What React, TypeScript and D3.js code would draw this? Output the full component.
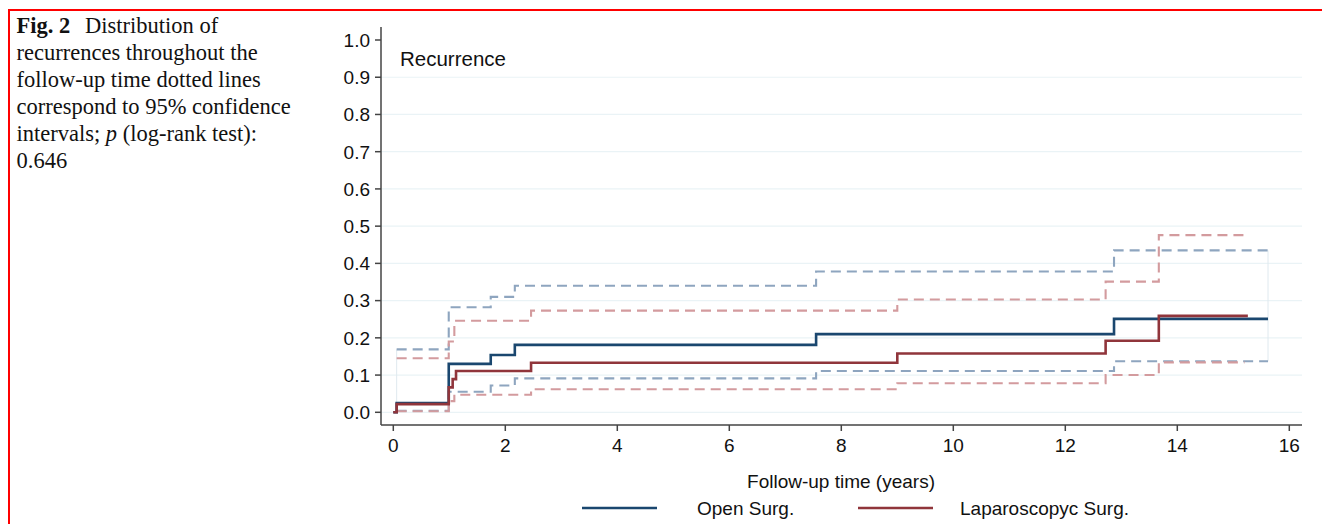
import * as d3 from 'd3';

// Kaplan-Meier style cumulative recurrence, step-after
const openTimes = [0, 0.06, 0.99, 1.74, 2.17, 7.55, 12.87, 15.62];
const openEst = [0, 0.025, 0.130, 0.154, 0.181, 0.210, 0.251, 0.251];
const openCITimes = [0.06, 0.99, 1.74, 2.17, 7.55, 12.87, 15.62];
const openUpper = [0.169, 0.282, 0.310, 0.340, 0.378, 0.435, 0.435];
const openLower = [0.004, 0.055, 0.072, 0.091, 0.111, 0.137, 0.137];

const lapTimes = [0, 0.06, 0.99, 1.06, 1.12, 2.46, 9.0, 12.72, 13.67, 15.26];
const lapEst = [0, 0.022, 0.067, 0.089, 0.111, 0.133, 0.158, 0.192, 0.259, 0.259];
const lapCITimes = [0.06, 0.99, 1.09, 2.46, 9.0, 12.72, 13.67, 15.2];
const lapUpper = [0.145, 0.19, 0.246, 0.273, 0.303, 0.351, 0.476, 0.476];
const lapLower = [0.003, 0.03, 0.047, 0.062, 0.078, 0.100, 0.134, 0.134];

const xTicks = [0, 2, 4, 6, 8, 10, 12, 14, 16];
const yTicks = [0, 0.1, 0.2, 0.3, 0.4, 0.5, 0.6, 0.7, 0.8, 0.9, 1.0];
const gridTicks = [0, 0.1, 0.2, 0.3, 0.4, 0.5, 0.6, 0.7, 0.8, 0.9];

const captionLines = [
  'recurrences throughout the',
  'follow-up time dotted lines',
  'correspond to 95% confidence',
];

const BLUE = '#1a476f';
const RED = '#90353b';
const BLUE_CI = '#8ea5bf';
const RED_CI = '#d39b9e';
const SANS = '"Liberation Sans", Arial, Helvetica, sans-serif';
const SERIF = '"Liberation Serif", "Times New Roman", serif';

const W = 1322;
const H = 524;

export default function App() {
  const x = d3.scaleLinear().domain([0, 16]).range([393.3, 1289.3]);
  const y = d3.scaleLinear().domain([0, 1]).range([412.3, 40]);
  const axisX = 381;
  const axisY = 425;
  const plotRight = 1302;

  const step = d3.line<[number, number]>()
    .x(d => x(d[0]))
    .y(d => y(d[1]))
    .curve(d3.curveStepAfter);

  const pts = (ts: number[], vs: number[]) => ts.map((t, i) => [t, vs[i]] as [number, number]);

  const ciEdge = (ts: number[], lo: number[], hi: number[], i: number) => (
    <line x1={x(ts[i])} x2={x(ts[i])} y1={y(lo[i])} y2={y(hi[i])}
      stroke="#dfe9ef" strokeWidth={1} />
  );

  const capY = (i: number) => 33 + i * 27;

  return (
    <svg width={W} height={H} style={{ position: 'absolute', left: 0, top: 0, background: '#fff' }}>
      {/* red frame */}
      <line x1={8} x2={W} y1={10} y2={10} stroke="#ff0000" strokeWidth={2} />
      <line x1={9} x2={9} y1={10} y2={H} stroke="#ff0000" strokeWidth={2} />

      {/* caption */}
      <g fontFamily={SERIF} fontSize={22.5} fill="#111">
        <text x={16.5} y={capY(0)}>
          <tspan fontWeight="bold">Fig. 2</tspan>
          <tspan x={85}>Distribution of</tspan>
        </text>
        {captionLines.map((l, i) => (
          <text key={l} x={16.5} y={capY(i + 1)}>{l}</text>
        ))}
        <text x={16.5} y={capY(4)}>
          intervals; <tspan fontStyle="italic">p</tspan> (log-rank test):
        </text>
        <text x={16.5} y={capY(5)}>0.646</text>
      </g>

      {/* grid */}
      {gridTicks.map(v => (
        <line key={v} x1={axisX} x2={plotRight} y1={y(v)} y2={y(v)} stroke="#eaf3f6" strokeWidth={1.2} />
      ))}

      {/* CI edge connectors */}
      {ciEdge(openCITimes, openLower, openUpper, 0)}
      {ciEdge(openCITimes, openLower, openUpper, openCITimes.length - 1)}

      {/* confidence intervals */}
      <g fill="none" strokeWidth={2.1} strokeDasharray="10,6">
        <path d={step(pts(openCITimes, openUpper)) || ''} stroke={BLUE_CI} />
        <path d={step(pts(openCITimes, openLower)) || ''} stroke={BLUE_CI} />
        <path d={step(pts(lapCITimes, lapUpper)) || ''} stroke={RED_CI} />
        <path d={step(pts(lapCITimes, lapLower)) || ''} stroke={RED_CI} />
      </g>

      {/* estimates */}
      <g fill="none" strokeWidth={2.6}>
        <path d={step(pts(openTimes, openEst)) || ''} stroke={BLUE} />
        <path d={step(pts(lapTimes, lapEst)) || ''} stroke={RED} />
      </g>

      {/* axes */}
      <g stroke="#444" strokeWidth={1.5}>
        <line x1={axisX} x2={axisX} y1={27} y2={axisY} />
        <line x1={axisX} x2={plotRight} y1={axisY} y2={axisY} />
        {yTicks.map(v => (
          <line key={v} x1={axisX - 6} x2={axisX} y1={y(v)} y2={y(v)} />
        ))}
        {xTicks.map(t => (
          <line key={t} x1={x(t)} x2={x(t)} y1={axisY} y2={axisY + 6} />
        ))}
      </g>
      <g fontFamily={SANS} fontSize={19} fill="#111">
        {yTicks.map(v => (
          <text key={v} x={370} y={y(v)} dy="0.36em" textAnchor="end">{v.toFixed(1)}</text>
        ))}
        {xTicks.map(t => (
          <text key={t} x={x(t)} y={452} textAnchor="middle">{t}</text>
        ))}
      </g>

      <text x={400} y={66} fontFamily={SANS} fontSize={20.5} fill="#111">Recurrence</text>
      <text x={841} y={488} fontFamily={SANS} fontSize={19} fill="#111" textAnchor="middle">
        Follow-up time (years)
      </text>

      {/* legend */}
      <line x1={582} x2={657} y1={508} y2={508} stroke={BLUE} strokeWidth={2.6} />
      <text x={697} y={515} fontFamily={SANS} fontSize={19} fill="#111">Open Surg.</text>
      <line x1={858} x2={933} y1={508} y2={508} stroke={RED} strokeWidth={2.6} />
      <text x={960} y={515} fontFamily={SANS} fontSize={19} fill="#111">Laparoscopyc Surg.</text>
    </svg>
  );
}
